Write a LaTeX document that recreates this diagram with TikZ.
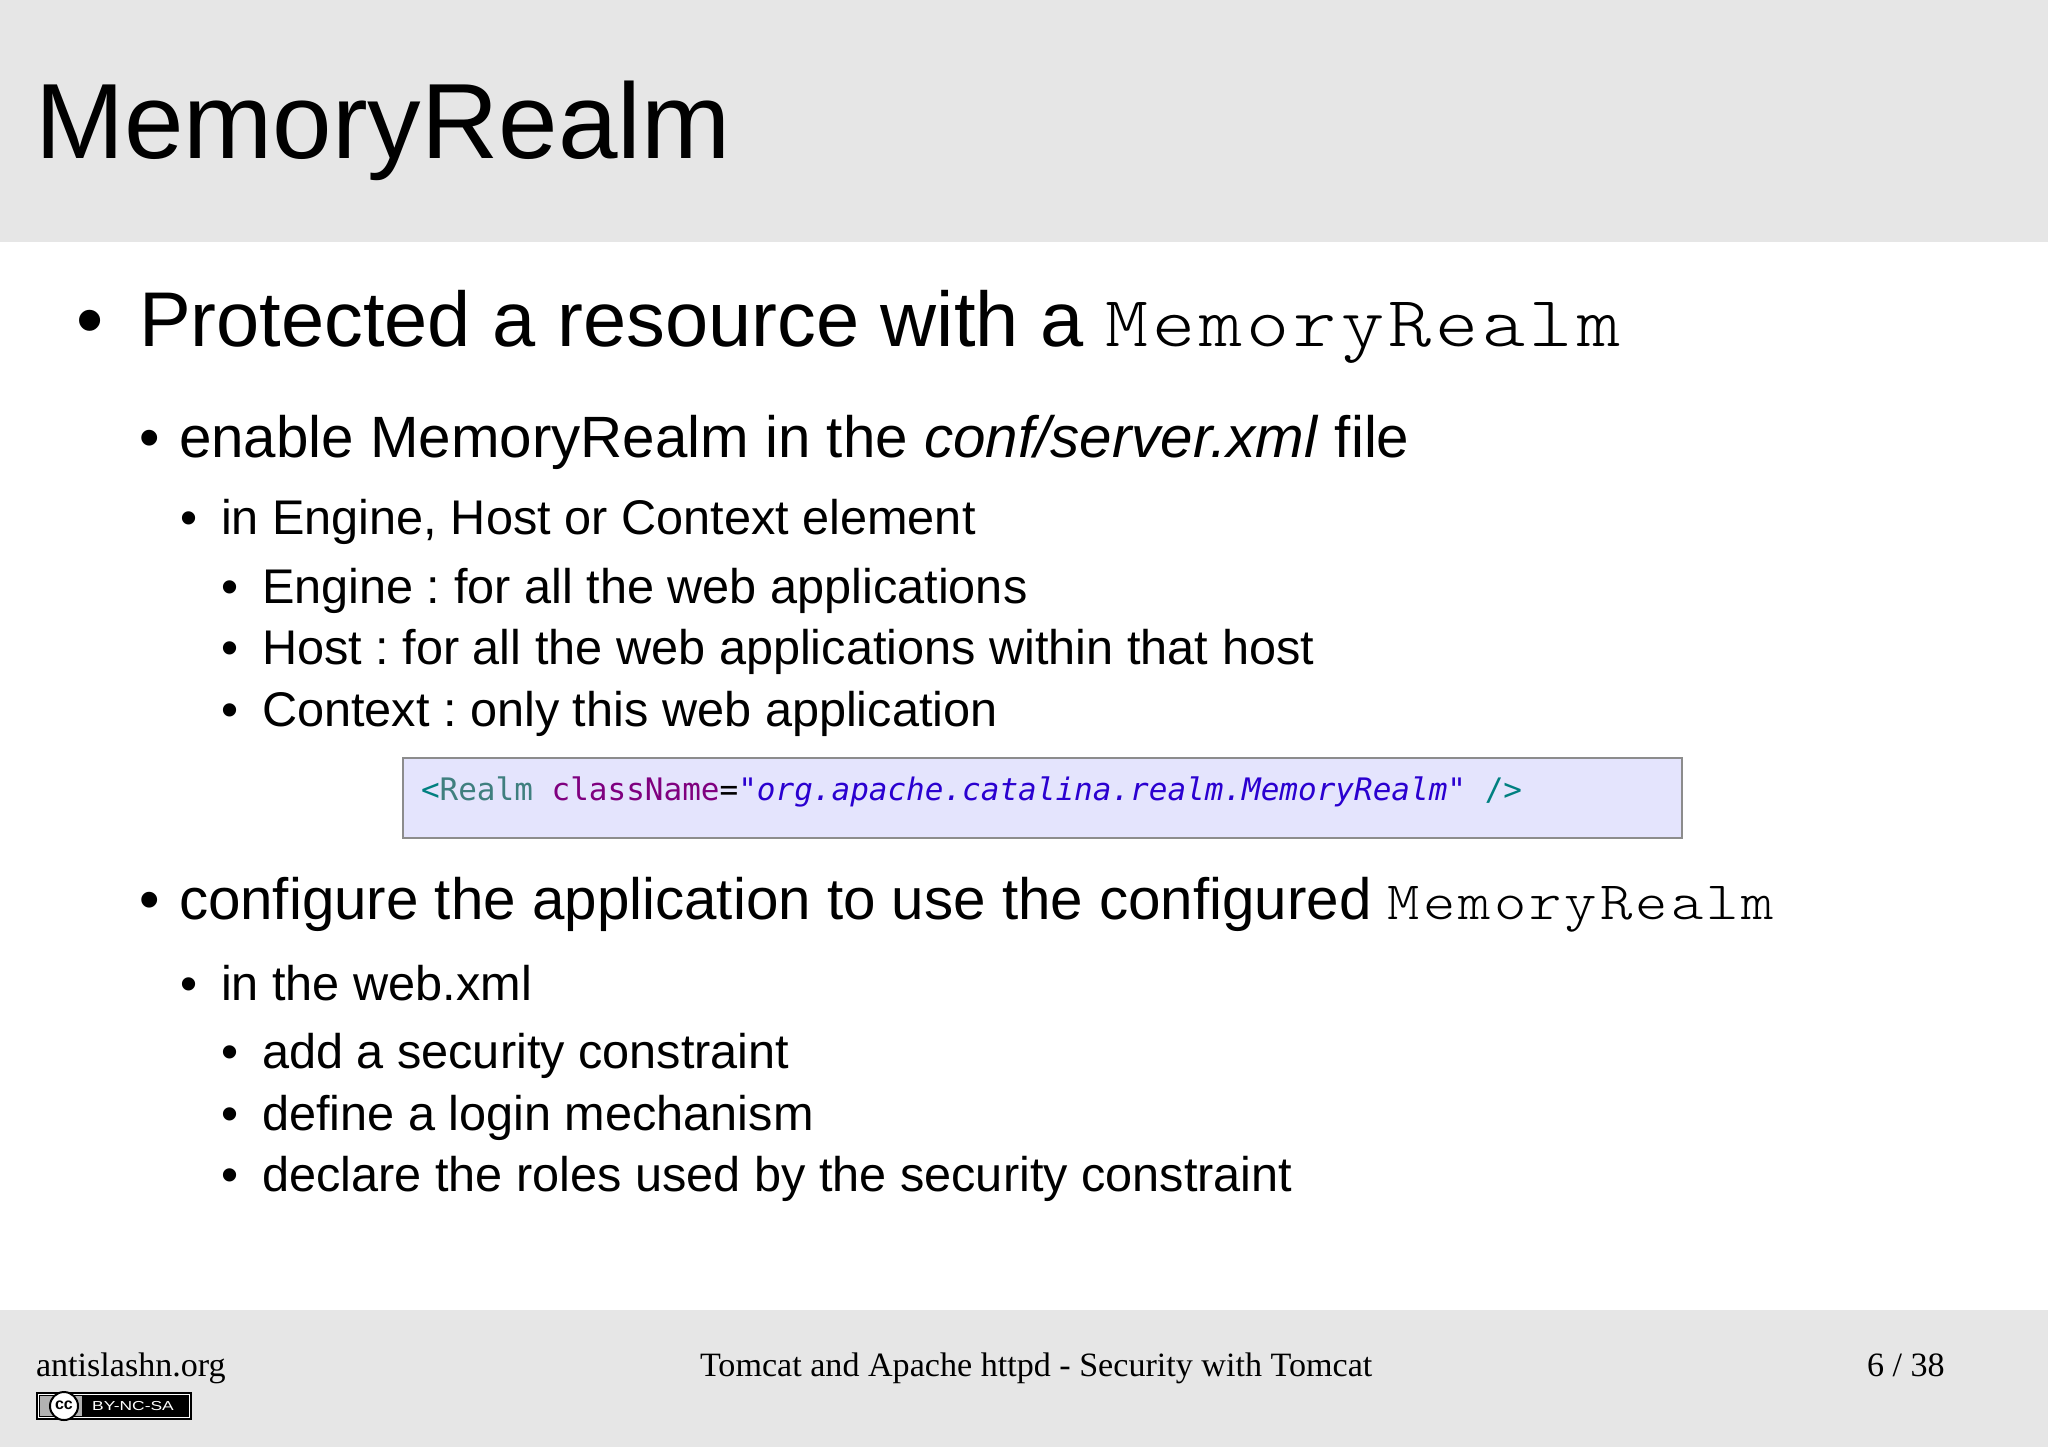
\documentclass[tikz,border=0pt]{standalone}
\usepackage{fontspec}
\setmainfont{Liberation Sans}
\newfontfamily\footfont{Liberation Serif}
\newfontfamily\codefont{DejaVu Sans Mono}
\newfontfamily\realmfont[FakeStretch=1.14,LetterSpace=5.7]{Latin Modern Mono Light}
\definecolor{bandgray}{HTML}{E6E6E6}
\definecolor{codebg}{HTML}{E4E4FD}
\definecolor{codeline}{HTML}{8C8C8C}
\definecolor{tagteal}{HTML}{008080}
\definecolor{tagname}{HTML}{3F7F7F}
\definecolor{attrpurple}{HTML}{7F007F}
\definecolor{strblue}{HTML}{2A00D0}
\newcommand{\memrealm}[1]{{\realmfont\fontsize{#1}{#1}\selectfont MemoryRealm}}
\frenchspacing
\tikzset{
    txt/.style={anchor=base west, inner sep=0pt, outer sep=0pt},
    lvla/.style={txt, font=\fontsize{38.8}{44}\selectfont},
    lvlb/.style={txt, font=\fontsize{29.15}{34}\selectfont},
    lvlc/.style={txt, font=\fontsize{24.33}{30}\selectfont},
    foot/.style={txt, font=\fontsize{17.05}{22}\selectfont\footfont},
}
\begin{document}
\begin{tikzpicture}[x=0.5pt,y=-0.5pt]
    \useasboundingbox (0,0) rectangle (2048,1447);
    \fill[bandgray] (0,0) rectangle (2048,242);
    \fill[bandgray] (0,1310) rectangle (2048,1447);

    \node[txt, font=\fontsize{53.5}{60}\selectfont] (title) at (35,158) {MemoryRealm};

    \node[lvla] (b1) at (76,346) {•};
    \node[lvla] (t1) at (139,346) {Protected a resource with a \memrealm{36}};

    \node[lvlb] (b2) at (139,457) {•};
    \node[lvlb] (t2) at (179,457) {enable MemoryRealm in the \textit{conf/server.xml} file};
    \node[lvlc] (b3) at (180,534) {•};
    \node[lvlc] (t3) at (221,534) {in Engine, Host or Context element};
    \node[lvlc] (b4) at (221,603) {•};
    \node[lvlc] (t4) at (262,603) {Engine : for all the web applications};
    \node[lvlc] (b5) at (221,664) {•};
    \node[lvlc] (t5) at (262,664) {Host : for all the web applications within that host};
    \node[lvlc] (b6) at (221,726) {•};
    \node[lvlc] (t6) at (262,726) {Context : only this web application};

    \draw[codeline, fill=codebg, line width=1pt] (403,758) rectangle (1682,838);
    \node[txt, font=\fontsize{15.5}{20}\selectfont\codefont] (code) at (421,800) {\textcolor{tagteal}{<}\textcolor{tagname}{Realm} \textcolor{attrpurple}{className}=\textcolor{strblue}{\itshape"org.apache.catalina.realm.MemoryRealm"} \textcolor{tagteal}{/>}};

    \node[lvlb] (b7) at (139,919) {•};
    \node[lvlb] (t7) at (179,919) {configure the application to use the configured \memrealm{27}};
    \node[lvlc] (b8) at (180,1000) {•};
    \node[lvlc] (t8) at (221,1000) {in the web.xml};
    \node[lvlc] (b9) at (221,1068) {•};
    \node[lvlc] (t9) at (262,1068) {add a security constraint};
    \node[lvlc] (b10) at (221,1130) {•};
    \node[lvlc] (t10) at (262,1130) {define a login mechanism};
    \node[lvlc] (b11) at (221,1191) {•};
    \node[lvlc] (t11) at (262,1191) {declare the roles used by the security constraint};

    \node[foot] (site) at (36,1376) {antislashn.org};
    \node[foot] (talk) at (700,1376) {Tomcat and Apache httpd - Security with Tomcat};
    \node[foot] (page) at (1867,1376) {6 / 38};

    % licence badge
    \fill[black] (36,1392) rectangle (192,1420);
    \fill[white] (38,1394) rectangle (190,1418);
    \fill[black] (39,1395) rectangle (189,1417);
    \fill[gray!60] (40,1396) rectangle (82,1416);
    \draw[black, line width=1pt, fill=white] (64,1406) circle (14);
    \node[font=\fontsize{8}{8}\selectfont\bfseries, text=black, inner sep=0pt] (cc) at (64,1405) {cc};
    \node[font=\fontsize{6.5}{8}\selectfont, text=white, inner sep=0pt] (nc) at (133,1406) {\scalebox{1.34}[1]{BY-NC-SA}};
\end{tikzpicture}
\end{document}
